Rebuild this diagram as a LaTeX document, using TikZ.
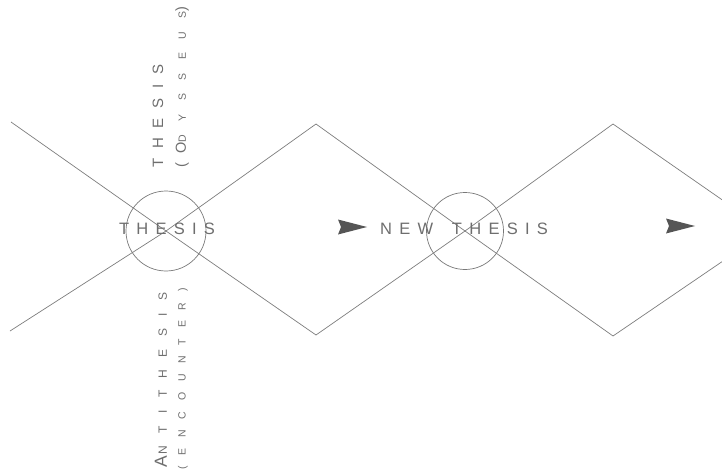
\documentclass[tikz,border=0pt]{standalone}
\usepackage{fontspec}
\setmainfont{Liberation Sans}
\newfontfamily\rowfont[LetterSpace=44]{Liberation Sans}
\newfontfamily\capsfont[LetterSpace=66]{Liberation Sans}
\newfontfamily\scfont[LetterSpace=103]{Liberation Sans}
\newfontfamily\widescfont[LetterSpace=128]{Liberation Sans}
\usetikzlibrary{positioning}
\definecolor{linecolor}{RGB}{125,125,125}
\definecolor{circlecolor}{RGB}{120,120,120}
\definecolor{textcolor}{RGB}{110,110,110}
\definecolor{headcolor}{RGB}{85,85,85}

\begin{document}
\begin{tikzpicture}[
    x=1pt, y=-1pt,
    % Estilos
    crossline/.style={draw=linecolor, line width=0.7pt},
    meeting/.style={circle, draw=circlecolor, line width=0.7pt, minimum size=#1, inner sep=0pt},
    rowlabel/.style={font=\rowfont\fontsize{16.5}{16.5}\selectfont, text=textcolor, inner sep=0pt},
    sidelabel/.style={rotate=90, anchor=west, inner sep=0pt, text=textcolor},
    headmark/.pic={\fill[headcolor] (0,0) -- (-29,-7.5) -- (-26,0) -- (-29,7.5) -- cycle;},
]
\useasboundingbox (0,0) rectangle (722,473);
\clip (0,0) rectangle (722,473);

% ============================================================================
% PONTOS DO ZIGUEZAGUE
% ============================================================================
\coordinate (ul) at (11,122);
\coordinate (ll) at (10,331);
\coordinate (top1) at (316,124);
\coordinate (bot1) at (316,335);
\coordinate (top2) at (613,124);
\coordinate (bot2) at (613,336);
\coordinate (ur) at (767,231);

% ============================================================================
% CIRCULOS
% ============================================================================
\node[meeting=80pt] (meet1) at (166,231) {};
\node[meeting=77pt] (meet2) at (465,231) {};

\draw[crossline] (ul) -- (meet1.center) -- (bot1) -- (meet2.center) -- (top2) -- (ur);
\draw[crossline] (ll) -- (meet1.center) -- (top1) -- (meet2.center) -- (bot2) -- (ur);

% ============================================================================
% TEXTOS
% ============================================================================
\node[rowlabel] (thesis) at (167,229) {THESIS};
\node[rowlabel] (newthesis) at (464,229) {NEW\hspace{7pt} THESIS};

\node[sidelabel, font=\capsfont\fontsize{15}{15}\selectfont] (upthesis) at (158,168) {THESIS};
\node[sidelabel] (odysseus) at (182,168)
  {\capsfont\fontsize{14.5}{14.5}\selectfont(O\widescfont\fontsize{10.5}{10.5}\selectfont DYSSEUS\capsfont\fontsize{14.5}{14.5}\selectfont)};

\node[sidelabel] (antithesis) at (161,468)
  {\capsfont\fontsize{17.5}{17.5}\selectfont A\hspace{2pt}\scfont\fontsize{12}{12}\selectfont NTITHESIS};
\node[sidelabel, font=\scfont\fontsize{10.5}{10.5}\selectfont] (encounter) at (183,470) {(ENCOUNTER)};

% ============================================================================
% SETAS
% ============================================================================
\pic at (367,227) {headmark};
\pic at (695,226) {headmark};

\end{tikzpicture}
\end{document}
